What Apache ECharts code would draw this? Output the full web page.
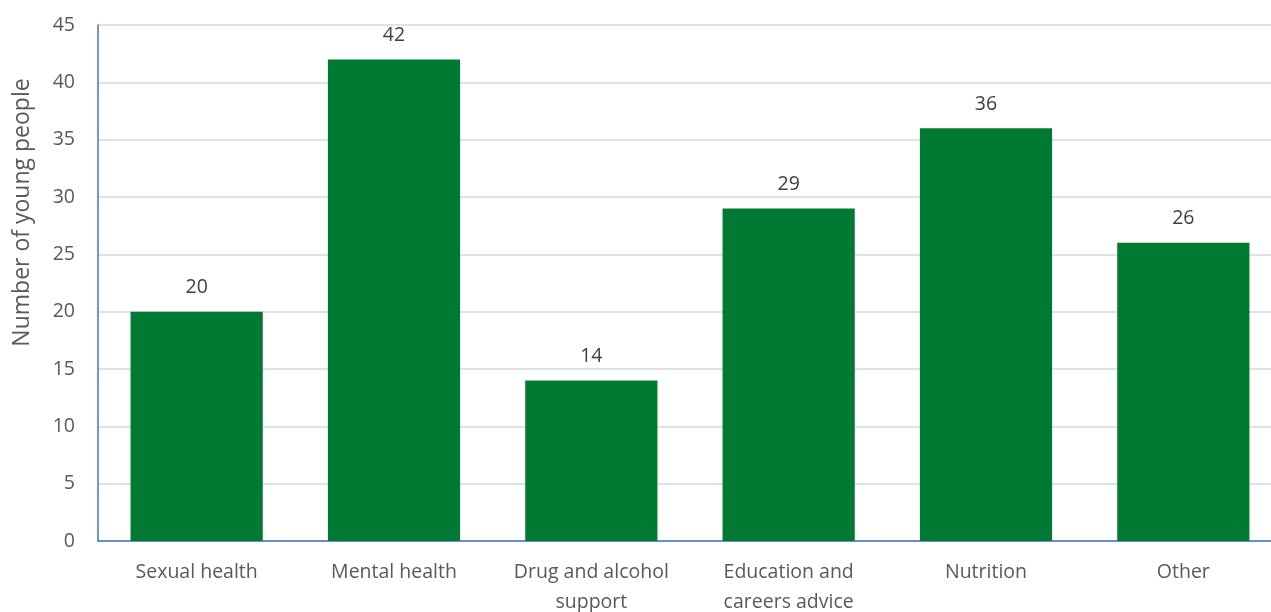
<!DOCTYPE html>
<html><head><meta charset="utf-8">
<script src="https://cdn.jsdelivr.net/npm/echarts@6/dist/echarts.min.js"></script>
<style>html,body{margin:0;padding:0;background:#fff}#c{width:1271px;height:612px}</style>
</head><body><div id="c"></div>
<script>
const categories = ['Sexual health', 'Mental health', 'Drug and alcohol\nsupport', 'Education and\ncareers advice', 'Nutrition', 'Other'];
const values = [20, 42, 14, 29, 36, 26];
const yTitle = 'Number of young people';

const chart = echarts.init(document.getElementById('c'));
const font = '"Open Sans", "Liberation Sans", sans-serif';
chart.setOption({
  animation: false,
  grid: { left: 98, right: -11, top: 25, bottom: 71, outerBoundsMode: 'none', containLabel: false },
  xAxis: {
    type: 'category', data: categories,
    axisLine: { lineStyle: { color: '#4472C4', width: 1.5 } },
    axisTick: { show: false },
    axisLabel: { color: '#595959', fontSize: 19.5, fontFamily: font, margin: 16, lineHeight: 30, interval: 0 }
  },
  yAxis: {
    type: 'value', min: 0, max: 45, interval: 5,
    name: yTitle, nameLocation: 'middle', nameGap: 64,
    nameTextStyle: { color: '#595959', fontSize: 23, fontFamily: font, padding: [0, 0, 0, 141] },
    axisLine: { show: true, lineStyle: { color: '#4472C4', width: 1.5 } },
    axisTick: { show: false },
    axisLabel: { color: '#595959', fontSize: 19.5, fontFamily: font, margin: 23 },
    splitLine: { lineStyle: { color: '#D9D9D9', width: 1.5 } }
  },
  series: [{
    type: 'bar', data: values, barWidth: '67%',
    itemStyle: { color: '#007A33' },
    label: { show: true, position: 'top', distance: 14, color: '#404040', fontSize: 19.5, fontFamily: font }
  }]
});
</script></body></html>
